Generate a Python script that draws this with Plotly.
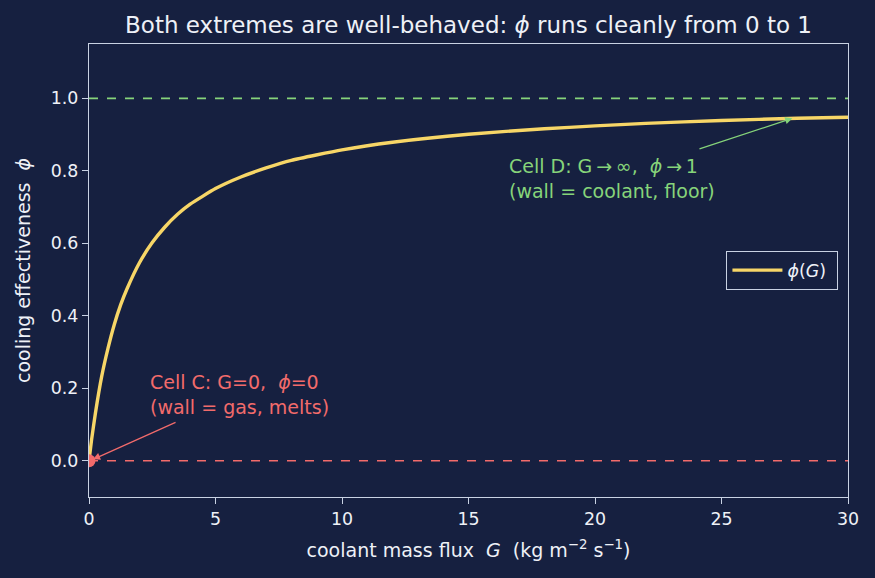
import plotly.graph_objects as go

# Values
G = [0, 0.1, 0.25, 0.5, 0.75, 1, 1.25, 1.5, 2, 2.5, 3, 3.5, 4, 5, 6, 7, 8, 10, 12, 15, 18, 20, 22, 25, 28, 30]
phi = [0, 0.057, 0.13, 0.232, 0.31, 0.376, 0.43, 0.474, 0.547, 0.602, 0.645, 0.68, 0.708, 0.751, 0.783, 0.808,
       0.829, 0.858, 0.879, 0.901, 0.916, 0.924, 0.931, 0.939, 0.945, 0.948]
x_ticks = [0, 5, 10, 15, 20, 25, 30]
y_ticks = [0.0, 0.2, 0.4, 0.6, 0.8, 1.0]
floor_level = 1.0
melt_level = 0.0
cell_c_point = (0.16, 0.004)
cell_d_point = (27.8, 0.945)

BG = "#162040"
FG = "#eef1f7"
SPINE = "#c9d2e3"
YEL = "#f7d667"
RED = "#f26b6b"
GRN = "#86d47a"
FONT = "DejaVu Sans"

fig = go.Figure()
fig.add_trace(go.Scatter(x=[0, 30], y=[floor_level] * 2, mode="lines",
                         line=dict(color=GRN, width=1.6, dash="dash"), showlegend=False, hoverinfo="skip"))
fig.add_trace(go.Scatter(x=[0, 30], y=[melt_level] * 2, mode="lines",
                         line=dict(color=RED, width=1.6, dash="dash"), showlegend=False, hoverinfo="skip"))
fig.add_trace(go.Scatter(x=G, y=phi, mode="lines", line=dict(color=YEL, width=3.4, shape="spline", smoothing=0.5),
                         name="<i>ϕ</i>(<i>G</i>)\u00a0"))
fig.add_trace(go.Scatter(x=[0], y=[0], mode="markers", marker=dict(color=RED, size=13),
                         showlegend=False, cliponaxis=True))

# Arrows
fig.add_annotation(x=cell_d_point[0], y=cell_d_point[1], ax=24.07, ay=0.859, xref="x", yref="y", axref="x", ayref="y",
                   text="", showarrow=True, arrowhead=2, arrowsize=1.1, arrowwidth=1.3, arrowcolor=GRN)
fig.add_annotation(x=16.52, y=0.780, xref="x", yref="y", xanchor="left", yanchor="middle",
                   text="Cell D: G\u2009→\u2009∞,  <i>ϕ</i>\u2009→\u20091<br>(wall = coolant, floor)", showarrow=False,
                   align="left", font=dict(color=GRN, size=19, family=FONT))
fig.add_annotation(x=cell_c_point[0], y=cell_c_point[1], ax=3.48, ay=0.108, xref="x", yref="y", axref="x", ayref="y",
                   text="", showarrow=True, arrowhead=2, arrowsize=1.1, arrowwidth=1.3, arrowcolor=RED)
fig.add_annotation(x=2.33, y=0.182, xref="x", yref="y", xanchor="left", yanchor="middle",
                   text="Cell C: G=0,  <i>ϕ</i>=0<br>(wall = gas, melts)", showarrow=False, align="left",
                   font=dict(color=RED, size=19, family=FONT))

axis_common = dict(showgrid=False, zeroline=False, showline=True, linecolor=SPINE, linewidth=1.3, mirror=True,
                   ticks="outside", ticklen=6, tickcolor=SPINE, tickfont=dict(color=FG, size=17.4, family=FONT))
fig.update_layout(
    width=875, height=578,
    paper_bgcolor=BG, plot_bgcolor=BG,
    margin=dict(l=89, r=27, t=44, b=81),
    font=dict(family=FONT, color=FG),
    title=dict(text="Both extremes are well-behaved: <i>ϕ</i> runs cleanly from 0 to 1", xref="paper", x=0.5,
               xanchor="center", y=0.957, yanchor="middle", font=dict(size=23, color=FG, family=FONT)),
    xaxis=dict(range=[0, 30], tickvals=x_ticks, ticktext=[str(v) for v in x_ticks],
               title=dict(text="coolant mass flux  <i>G</i>  (kg m<sup>−2</sup> s<sup>−1</sup>)",
                          font=dict(size=19, color=FG, family=FONT), standoff=15), **axis_common),
    yaxis=dict(range=[-0.1, 1.15], tickvals=y_ticks, ticktext=[f"{v:.1f}" for v in y_ticks],
               title=dict(text="cooling effectiveness  <i>ϕ</i>", font=dict(size=19, color=FG, family=FONT),
                          standoff=15), **axis_common),
    legend=dict(x=0.987, y=0.5, xanchor="right", yanchor="middle", bgcolor=BG, bordercolor=SPINE, borderwidth=1.3,
                itemwidth=50, font=dict(size=17.4, color=FG, family=FONT)),
)
fig.write_html("out.html")
